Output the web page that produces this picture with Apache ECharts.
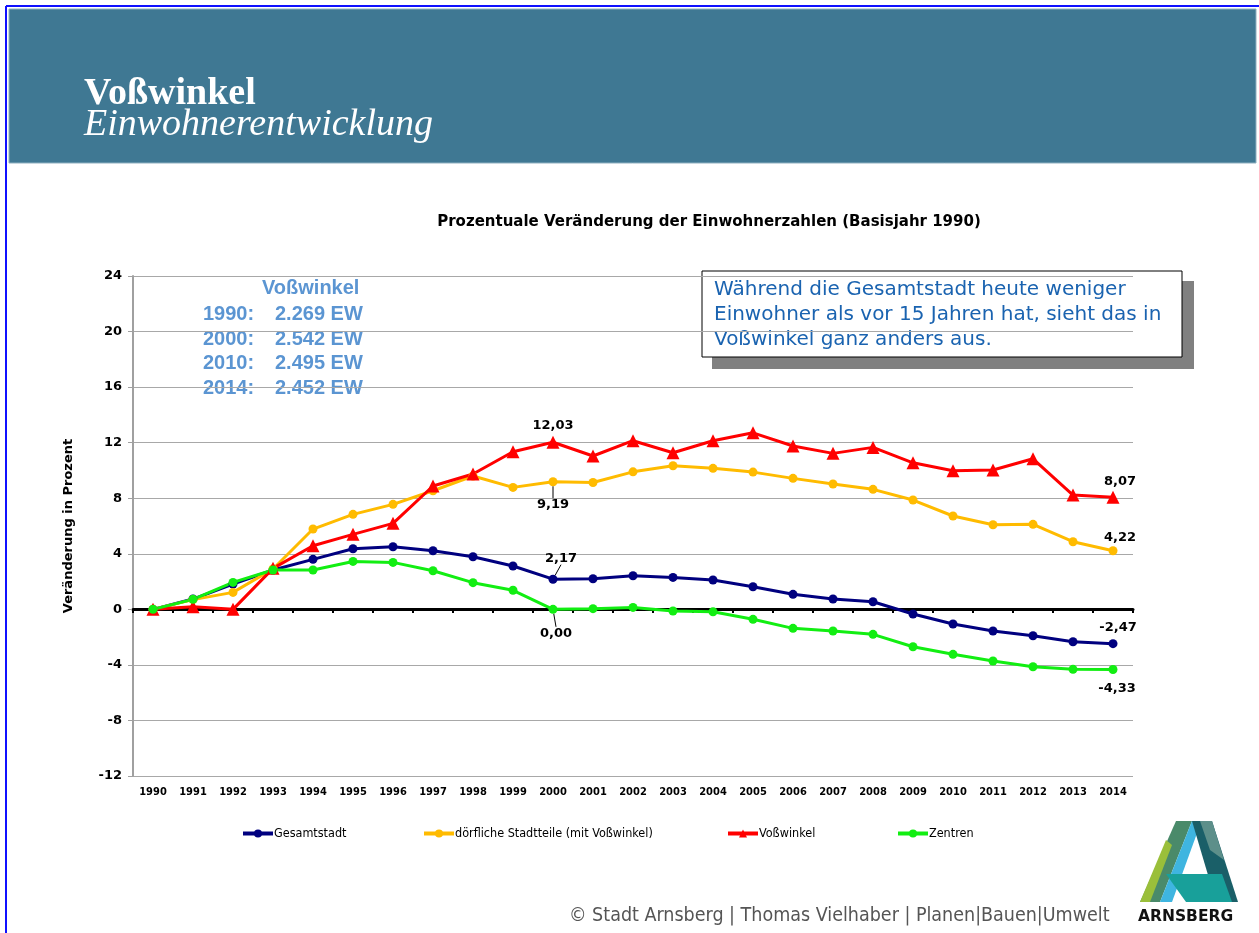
<!DOCTYPE html>
<html>
<head>
<meta charset="utf-8">
<script src="https://cdn.jsdelivr.net/npm/echarts@6/dist/echarts.min.js"></script>
<style>
  html, body { margin: 0; padding: 0; background: #fff; }
  #main { width: 1259px; height: 933px; }
</style>
</head>
<body>
<div id="main"></div>
<script>
// years and percentage change vs 1990
const years = ["1990", "1991", "1992", "1993", "1994", "1995", "1996", "1997", "1998", "1999",
  "2000", "2001", "2002", "2003", "2004", "2005", "2006", "2007", "2008", "2009",
  "2010", "2011", "2012", "2013", "2014"];
const gesamtstadt = [0, 0.74, 1.82, 2.83, 3.6, 4.36, 4.51, 4.22, 3.79, 3.12,
  2.17, 2.2, 2.42, 2.3, 2.11, 1.63, 1.08, 0.74, 0.55, -0.34,
  -1.06, -1.56, -1.9, -2.33, -2.47];
const doerflich = [0, 0.7, 1.22, 2.9, 5.78, 6.84, 7.56, 8.54, 9.6, 8.78,
  9.19, 9.13, 9.9, 10.34, 10.15, 9.88, 9.43, 9.02, 8.64, 7.87,
  6.72, 6.09, 6.12, 4.87, 4.22];
const vosswinkel = [0, 0.18, 0.0, 2.95, 4.58, 5.4, 6.19, 8.88, 9.74, 11.35,
  12.03, 11.04, 12.14, 11.27, 12.14, 12.71, 11.76, 11.23, 11.66, 10.55,
  9.98, 10.03, 10.84, 8.23, 8.07];
const zentren = [0, 0.72, 1.94, 2.83, 2.83, 3.45, 3.38, 2.78, 1.92, 1.37,
  0.0, 0.05, 0.14, -0.12, -0.17, -0.72, -1.37, -1.56, -1.8, -2.69,
  -3.24, -3.72, -4.13, -4.32, -4.33];
const yTicks = { min: -12, max: 24, step: 4 };

const fmt = v => v.toFixed(2).replace(".", ",");
const labelFont = { fontFamily: "DejaVu Sans", fontWeight: "bold", fontSize: 13, color: "#000" };

// labelled points: position, shift, and whether a guide line is drawn
function makeData(values, labels) {
  return values.map((v, i) => {
    const l = labels[i];
    if (!l) return v;
    return { value: v, label: { show: true, position: l.pos }, labelLine: { show: !!l.guide } };
  });
}

function lineSeries(name, color, values, symbol, labels) {
  return {
    name: name,
    type: "line",
    data: makeData(values, labels),
    symbol: symbol,
    symbolSize: symbol === "triangle" ? 13 : 9,
    lineStyle: { color: color, width: 3 },
    itemStyle: { color: color },
    label: Object.assign({ show: false, formatter: p => fmt(p.value) }, labelFont),
    labelLine: { show: false, lineStyle: { color: "#000", width: 1 } },
    labelLayout: p => {
      const l = labels[p.dataIndex];
      return l ? { dx: l.d[0], dy: l.d[1] } : {};
    },
    z: 3
  };
}

const chart = echarts.init(document.getElementById("main"));
chart.setOption({
  backgroundColor: "#fff",
  animation: false,
  title: {
    text: "Prozentuale Veränderung der Einwohnerzahlen (Basisjahr 1990)",
    left: 704, top: 210, textAlign: "center",
    textStyle: { fontFamily: "DejaVu Sans", fontWeight: "bold", fontSize: 15, color: "#000" }
  },
  grid: { left: 133, right: 126, top: 276, bottom: 157 },
  legend: [
    { data: ["Gesamtstadt"], left: 236, top: 822 },
    { data: ["dörfliche Stadtteile (mit Voßwinkel)"], left: 417, top: 822 },
    { data: ["Voßwinkel"], left: 721, top: 822 },
    { data: ["Zentren"], left: 891, top: 822 }
  ].map(l => Object.assign(l, {
    itemWidth: 30, itemHeight: 10, itemGap: 2,
    lineStyle: { width: 4 },
    textStyle: { fontFamily: "DejaVu Sans Condensed, DejaVu Sans", fontSize: 12.5, color: "#000", padding: [0, 0, 0, -4] }
  })),
  xAxis: [
    {
      type: "category", data: years, boundaryGap: true,
      axisLine: { show: false }, axisTick: { show: false },
      axisLabel: { fontFamily: "DejaVu Sans Condensed, DejaVu Sans", fontWeight: "bold", fontSize: 11, color: "#000", margin: 11 }
    },
    {
      // zero line with its ticks, lifted from the bottom edge to y = 0
      type: "category", data: years, boundaryGap: true, position: "bottom", offset: -167,
      axisLine: { onZero: false, lineStyle: { color: "#000", width: 3 } },
      axisTick: { show: true, length: 4, lineStyle: { color: "#000", width: 2 } },
      axisLabel: { show: false }
    }
  ],
  yAxis: {
    type: "value", min: yTicks.min, max: yTicks.max, interval: yTicks.step,
    name: "Veränderung in Prozent", nameLocation: "middle", nameGap: 58, nameRotate: 90,
    nameTextStyle: { fontFamily: "DejaVu Sans", fontWeight: "bold", fontSize: 13, color: "#000" },
    axisLine: { show: true, lineStyle: { color: "#a0a0a0", width: 2 } },
    axisTick: { show: true, length: 5, lineStyle: { color: "#a0a0a0" } },
    axisLabel: { fontFamily: "DejaVu Sans", fontWeight: "bold", fontSize: 13, color: "#000", margin: 11 },
    splitLine: { lineStyle: { color: "#a8a8a8", width: 1 } }
  },
  series: [
    lineSeries("Gesamtstadt", "#00007f", gesamtstadt, "circle", {
      10: { pos: "top", d: [8, -5], guide: true }, 24: { pos: "top", d: [5, 0] } }),
    lineSeries("dörfliche Stadtteile (mit Voßwinkel)", "#ffbb00", doerflich, "circle", {
      10: { pos: "bottom", d: [0, 7], guide: true }, 24: { pos: "top", d: [7, 3] } }),
    lineSeries("Voßwinkel", "#ff0000", vosswinkel, "triangle", {
      10: { pos: "top", d: [0, 1] }, 24: { pos: "top", d: [7, 2] } }),
    lineSeries("Zentren", "#12ee12", zentren, "circle", {
      10: { pos: "bottom", d: [3, 8], guide: true }, 24: { pos: "bottom", d: [4, 3] } })
  ],
  graphic: [
    // page frame
    { type: "line", shape: { x1: 6, y1: 6, x2: 1259, y2: 6 }, style: { stroke: "#1010ff", lineWidth: 2 } },
    { type: "line", shape: { x1: 6, y1: 6, x2: 6, y2: 933 }, style: { stroke: "#1010ff", lineWidth: 2 } },
    // header band
    { type: "rect", shape: { x: 9, y: 9, width: 1247, height: 154 }, style: { fill: "#3f7893", stroke: "#8fb0c0", lineWidth: 1 } },
    { type: "text", left: 84, top: 75, style: { text: "Voßwinkel", fill: "#fff", font: "bold 38px 'Liberation Serif', 'DejaVu Serif', serif" } },
    { type: "text", left: 84, top: 106, style: { text: "Einwohnerentwicklung", fill: "#fff", font: "italic 38px 'Liberation Serif', 'DejaVu Serif', serif" } },
    // info block top left
    { type: "text", left: 262, top: 278, style: { text: "Voßwinkel", fill: "#5b95d2", font: "bold 20px 'Liberation Sans', Arial, sans-serif" } },
    { type: "text", left: 203, top: 302, style: {
      text: "1990:\n2000:\n2010:\n2014:",
      fill: "#5b95d2", font: "bold 20px 'Liberation Sans', Arial, sans-serif", lineHeight: 24.7 } },
    { type: "text", left: 275, top: 302, style: {
      text: "2.269 EW\n2.542 EW\n2.495 EW\n2.452 EW",
      fill: "#5b95d2", font: "bold 20px 'Liberation Sans', Arial, sans-serif", lineHeight: 24.7 } },
    // comment box with shadow
    { type: "rect", shape: { x: 712, y: 281, width: 482, height: 88 }, style: { fill: "#808080" } },
    { type: "rect", shape: { x: 702, y: 271, width: 480, height: 86 }, style: { fill: "#fff", stroke: "#000", lineWidth: 1 } },
    { type: "text", left: 714, top: 277, style: {
      text: "Während die Gesamtstadt heute weniger\nEinwohner als vor 15 Jahren hat, sieht das in\nVoßwinkel ganz anders aus.",
      fill: "#1a63b0", font: "20px 'DejaVu Sans', sans-serif", lineHeight: 25 } },
    // footer
    { type: "text", left: 569, top: 906, style: {
      text: "© Stadt Arnsberg | Thomas Vielhaber | Planen|Bauen|Umwelt",
      fill: "#555", font: "19.5px 'DejaVu Sans Condensed', 'DejaVu Sans', sans-serif" } },
    // logo
    { type: "polygon", shape: { points: [[1140, 902], [1160, 902], [1192, 821], [1176, 821]] }, style: { fill: "#4a8a6a" } },
    { type: "polygon", shape: { points: [[1140, 902], [1150, 902], [1172, 845], [1166, 840]] }, style: { fill: "#9abf3a" } },
    { type: "polygon", shape: { points: [[1160, 902], [1172, 902], [1200, 825], [1192, 821]] }, style: { fill: "#3fb5e0" } },
    { type: "polygon", shape: { points: [[1192, 821], [1212, 821], [1238, 902], [1216, 902]] }, style: { fill: "#1a5f68" } },
    { type: "polygon", shape: { points: [[1200, 821], [1212, 821], [1224, 860], [1210, 850]] }, style: { fill: "#5d8f8a" } },
    { type: "polygon", shape: { points: [[1166, 874], [1222, 874], [1232, 902], [1186, 902]] }, style: { fill: "#18a09a" } },
    { type: "text", left: 1138, top: 909, style: { text: "ARNSBERG", fill: "#111", font: "bold 15.5px 'DejaVu Sans', sans-serif" } }
  ]
});
</script>
</body>
</html>
